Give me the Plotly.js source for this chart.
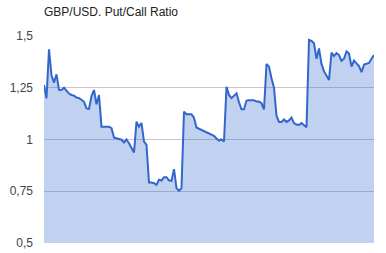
<!DOCTYPE html>
<html>
<head>
<meta charset="utf-8">
<script src="https://cdn.plot.ly/plotly-3.0.1.min.js"></script>
<style>html,body{margin:0;padding:0;background:#fff;}#chart{width:386px;height:253px;}</style>
</head>
<body>
<div id="chart"></div>
<script>
const chartTitle = "GBP/USD. Put/Call Ratio";
const tickValues = [0.5, 0.75, 1, 1.25, 1.5];
const tickLabels = ["0,5", "0,75", "1", "1,25", "1,5"];
const ratio = [
  1.263, 1.199, 1.436, 1.31, 1.275, 1.315, 1.24, 1.239, 1.25, 1.233,
  1.222, 1.215, 1.212, 1.203, 1.2, 1.192, 1.182, 1.15, 1.148, 1.21,
  1.239, 1.17, 1.215, 1.062, 1.062, 1.062, 1.062, 1.055, 1.01, 1.006,
  1.002, 0.999, 0.986, 1.0, 0.982, 0.96, 0.937, 1.086, 1.062, 1.08,
  0.99, 0.974, 0.792, 0.792, 0.789, 0.781, 0.806, 0.802, 0.818, 0.818,
  0.803, 0.8, 0.857, 0.765, 0.752, 0.765, 1.135, 1.122, 1.122, 1.122,
  1.105, 1.058, 1.052, 1.046, 1.04, 1.035, 1.031, 1.023, 1.018, 1.005,
  0.995, 1.0, 0.99, 1.255, 1.215, 1.2, 1.21, 1.223, 1.18, 1.146,
  1.146, 1.188, 1.19, 1.191, 1.19, 1.183, 1.183, 1.175, 1.145, 1.365,
  1.352, 1.296, 1.25, 1.115, 1.085, 1.085, 1.097, 1.085, 1.092, 1.106,
  1.079, 1.072, 1.07, 1.08, 1.068, 1.059, 1.481, 1.476, 1.465, 1.39,
  1.44, 1.365, 1.33, 1.305, 1.288, 1.42, 1.403, 1.417, 1.408, 1.38,
  1.39, 1.425, 1.415, 1.352, 1.381, 1.368, 1.355, 1.325, 1.362, 1.366,
  1.37, 1.39, 1.408
];
const idx = ratio.map((_, i) => i);

Plotly.newPlot('chart', [{
  x: idx,
  y: ratio,
  type: 'scatter',
  mode: 'lines',
  fill: 'tozeroy',
  fillcolor: 'rgba(51,102,204,0.3)',
  line: {color: '#3366cc', width: 2},
  hoverinfo: 'none'
}], {
  width: 386,
  height: 253,
  margin: {l: 44, r: 12, t: 36, b: 10, pad: 0},
  paper_bgcolor: '#ffffff',
  plot_bgcolor: '#ffffff',
  showlegend: false,
  title: {
    text: chartTitle,
    font: {family: 'Liberation Sans, Arial, sans-serif', size: 12, color: '#222222'},
    x: 44 / 386, xref: 'container', xanchor: 'left',
    y: 1 - 12 / 253, yref: 'container', yanchor: 'middle'
  },
  xaxis: {
    range: [0, idx.length - 1],
    showgrid: false, zeroline: false, showline: false,
    showticklabels: false, ticks: ''
  },
  yaxis: {
    range: [0.5, 1.5],
    tickvals: tickValues,
    ticktext: tickLabels,
    showgrid: true,
    gridcolor: '#cfc2d0',
    gridwidth: 1,
    zeroline: false, showline: false, ticks: '',
    ticklabelstandoff: 10,
    tickfont: {family: 'Liberation Sans, Arial, sans-serif', size: 12, color: '#444444'}
  }
}, {displayModeBar: false, staticPlot: true});
</script>
</body>
</html>
